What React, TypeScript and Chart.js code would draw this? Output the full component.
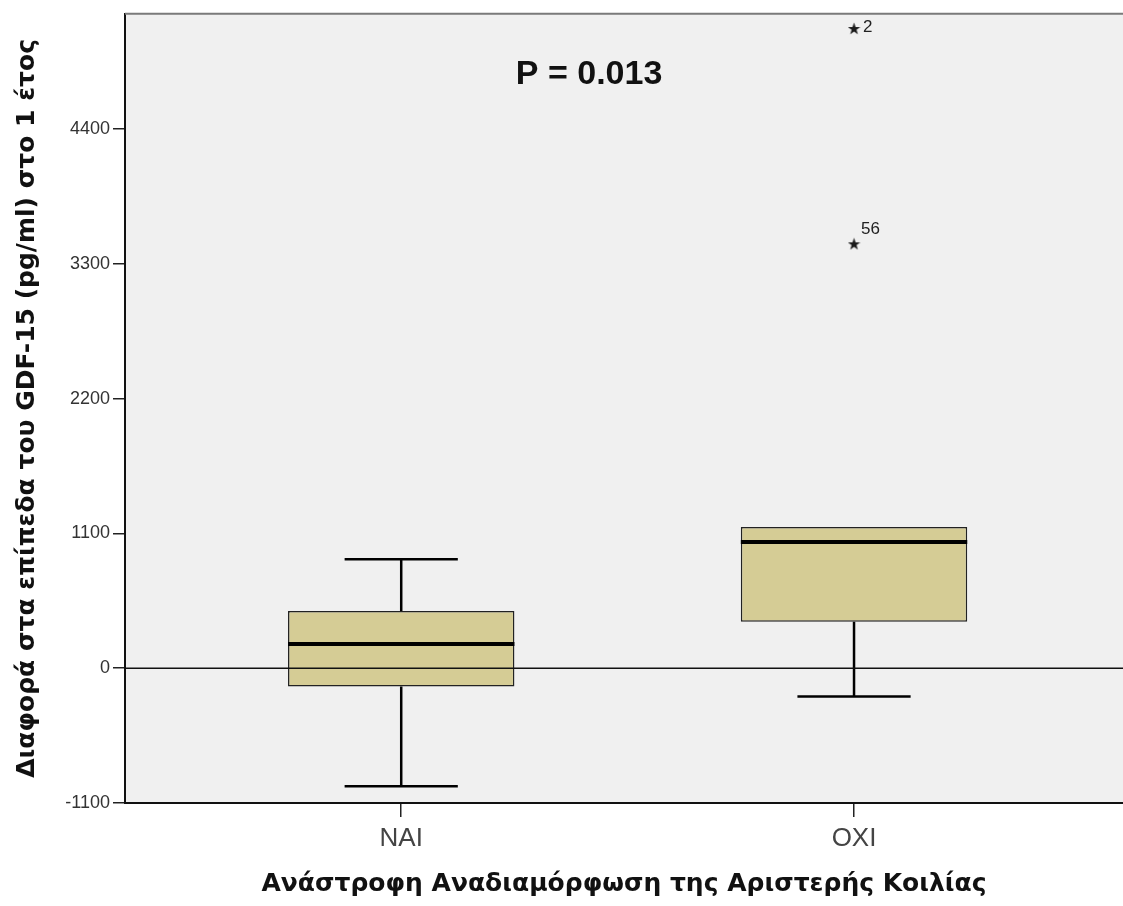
import React, { useEffect, useRef } from "react";
import { Chart, registerables } from "chart.js";

Chart.register(...registerables);

// ---- data ----
const categories: string[] = ["NAI", "OXI"];
const groupPositions: number[] = [1, 2];
const whiskerLow: number[] = [-963, -231];
const q1: number[] = [-150, 379];
const median: number[] = [198, 1030];
const q3: number[] = [466, 1152];
const whiskerHigh: number[] = [889, 1152];
const outlierX: number[] = [2, 2];
const outlierY: number[] = [5220, 3463];
const outlierLabels: string[] = ["2", "56"];
const yTicks: number[] = [-1100, 0, 1100, 2200, 3300, 4400];
const yMin = -1100;
const yMax = 5340;
const xMin = 0.39;
const xMax = 2.594;
const pValueText = "P = 0.013";
const yTitle = "Διαφορά στα επίπεδα του GDF-15 (pg/ml) στο 1 έτος";
const xTitle = "Ανάστροφη Αναδιαμόρφωση της Αριστερής Κοιλίας";

const FONT = "'Liberation Sans', Arial, 'DejaVu Sans', sans-serif";
const TITLE_FONT = "'DejaVu Sans', Verdana, sans-serif";
const BOX_FILL = "#d5cc95";
const BOX_HALF = 0.25;
const CAP_HALF = 0.125;

function makeStar(size: number): HTMLCanvasElement {
  const c = document.createElement("canvas");
  c.width = size;
  c.height = size;
  const ctx = c.getContext("2d")!;
  ctx.fillStyle = "#1a1a1a";
  ctx.beginPath();
  const cx = size / 2;
  const cy = size / 2 + 0.5;
  for (let i = 0; i < 10; i++) {
    const r = i % 2 === 0 ? size / 2 : size * 0.2;
    const a = -Math.PI / 2 + (i * Math.PI) / 5;
    const x = cx + r * Math.cos(a);
    const y = cy + r * Math.sin(a);
    if (i === 0) ctx.moveTo(x, y);
    else ctx.lineTo(x, y);
  }
  ctx.closePath();
  ctx.fill();
  return c;
}

const boxPlugin = {
  id: "boxExtras",
  beforeDraw(chart: any) {
    const { ctx, chartArea: a } = chart;
    ctx.save();
    ctx.fillStyle = "#f0f0f0";
    ctx.fillRect(a.left, a.top, a.right - a.left, a.bottom - a.top);
    ctx.restore();
  },
  afterDatasetsDraw(chart: any) {
    const { ctx, chartArea: a } = chart;
    const xs = chart.scales.x;
    const ys = chart.scales.y;
    ctx.save();
    ctx.strokeStyle = "#000";
    ctx.lineCap = "butt";
    for (let i = 0; i < groupPositions.length; i++) {
      const xc = xs.getPixelForValue(groupPositions[i]);
      const xl = xs.getPixelForValue(groupPositions[i] - BOX_HALF);
      const xr = xs.getPixelForValue(groupPositions[i] + BOX_HALF);
      const cl = xs.getPixelForValue(groupPositions[i] - CAP_HALF);
      const cr = xs.getPixelForValue(groupPositions[i] + CAP_HALF);
      const yLo = ys.getPixelForValue(whiskerLow[i]);
      const yQ1 = ys.getPixelForValue(q1[i]);
      const yQ3 = ys.getPixelForValue(q3[i]);
      const yHi = ys.getPixelForValue(whiskerHigh[i]);
      const yMed = ys.getPixelForValue(median[i]);
      // whiskers
      ctx.lineWidth = 2.5;
      ctx.beginPath();
      ctx.moveTo(xc, yQ1);
      ctx.lineTo(xc, yLo);
      if (whiskerHigh[i] > q3[i]) {
        ctx.moveTo(xc, yQ3);
        ctx.lineTo(xc, yHi);
      }
      ctx.stroke();
      ctx.lineWidth = 2.5;
      ctx.beginPath();
      ctx.moveTo(cl, yLo);
      ctx.lineTo(cr, yLo);
      if (whiskerHigh[i] > q3[i]) {
        ctx.moveTo(cl, yHi);
        ctx.lineTo(cr, yHi);
      }
      ctx.stroke();
      // median
      ctx.lineWidth = 4;
      ctx.beginPath();
      ctx.moveTo(xl, yMed);
      ctx.lineTo(xr, yMed);
      ctx.stroke();
    }
    // zero reference line
    const y0 = ys.getPixelForValue(0);
    ctx.lineWidth = 1.5;
    ctx.strokeStyle = "#111";
    ctx.beginPath();
    ctx.moveTo(a.left, y0);
    ctx.lineTo(a.right, y0);
    ctx.stroke();
    // top frame line
    ctx.strokeStyle = "#7a7a7a";
    ctx.lineWidth = 2;
    ctx.beginPath();
    ctx.moveTo(a.left, a.top);
    ctx.lineTo(a.right, a.top);
    ctx.stroke();
    // outlier labels
    ctx.fillStyle = "#222";
    ctx.font = `17px ${FONT}`;
    ctx.textAlign = "left";
    ctx.textBaseline = "middle";
    for (let i = 0; i < outlierY.length; i++) {
      const px = xs.getPixelForValue(outlierX[i]);
      const py = ys.getPixelForValue(outlierY[i]);
      if (i === 0) ctx.fillText(outlierLabels[i], px + 9, py - 1);
      else ctx.fillText(outlierLabels[i], px + 7, py - 15);
    }
    // p-value annotation
    ctx.fillStyle = "#111";
    ctx.font = `bold 34px ${FONT}`;
    ctx.textAlign = "center";
    ctx.textBaseline = "middle";
    ctx.fillText(pValueText, a.left + (a.right - a.left) * 0.465, a.top + 61);
    ctx.restore();
  },
};

export default function App() {
  const ref = useRef<HTMLCanvasElement | null>(null);

  useEffect(() => {
    document.body.style.margin = "0";
    const canvas = ref.current;
    if (!canvas) return;
    const star = makeStar(13);
    const chart = new Chart(canvas, {
      type: "bar",
      data: {
        datasets: [
          {
            type: "bar",
            data: groupPositions.map((x, i) => ({ x, y: [q1[i], q3[i]] })) as any,
            backgroundColor: BOX_FILL,
            borderColor: "#222",
            borderWidth: 1.5,
            borderSkipped: false,
            barPercentage: 0.5,
            categoryPercentage: 1,
          } as any,
          {
            type: "scatter",
            data: outlierX.map((x, i) => ({ x, y: outlierY[i] })),
            pointStyle: star as any,
            pointRadius: 6,
          } as any,
        ],
      },
      options: {
        animation: false,
        responsive: false,
        maintainAspectRatio: false,
        layout: { autoPadding: false, padding: { top: 12, right: 0, left: 0, bottom: 0 } },
        plugins: {
          legend: { display: false },
          tooltip: { enabled: false },
          title: { display: false },
        },
        scales: {
          x: {
            type: "linear",
            min: xMin,
            max: xMax,
            offset: false,
            afterBuildTicks: (s: any) => {
              s.ticks = groupPositions.map((v) => ({ value: v }));
            },
            afterFit: (s: any) => {
              s.height = 103;
            },
            ticks: {
              callback: (_v: any, idx: number) => categories[idx],
              color: "#444",
              font: { family: FONT, size: 26 },
              padding: 6,
              autoSkip: false,
              maxRotation: 0,
            },
            grid: {
              drawOnChartArea: false,
              drawTicks: true,
              tickLength: 14,
              color: "#222",
              lineWidth: 1.5,
              offset: false,
            },
            border: { display: true, color: "#111", width: 2 },
            title: {
              display: true,
              text: xTitle,
              color: "#111",
              font: { family: TITLE_FONT, size: 25, weight: "bold" },
              padding: { top: 0, bottom: 7 },
            },
          } as any,
          y: {
            type: "linear",
            min: yMin,
            max: yMax,
            afterBuildTicks: (s: any) => {
              s.ticks = yTicks.map((v) => ({ value: v }));
            },
            afterFit: (s: any) => {
              s.width = 125;
            },
            ticks: {
              color: "#333",
              font: { family: FONT, size: 18 },
              padding: 3,
              callback: (v: any) => String(v),
            },
            grid: {
              drawOnChartArea: false,
              tickLength: 12,
              color: "#222",
              lineWidth: 1.5,
            },
            border: { display: true, color: "#111", width: 2 },
            title: {
              display: true,
              text: yTitle,
              color: "#111",
              font: { family: TITLE_FONT, size: 25, weight: "bold" },
              padding: { top: 12, bottom: 0 },
            },
          } as any,
        },
      },
      plugins: [boxPlugin],
    });
    return () => chart.destroy();
  }, []);

  return (
    <canvas
      ref={ref}
      width={1123}
      height={906}
      style={{ display: "block", width: "1123px", height: "906px" }}
    />
  );
}
